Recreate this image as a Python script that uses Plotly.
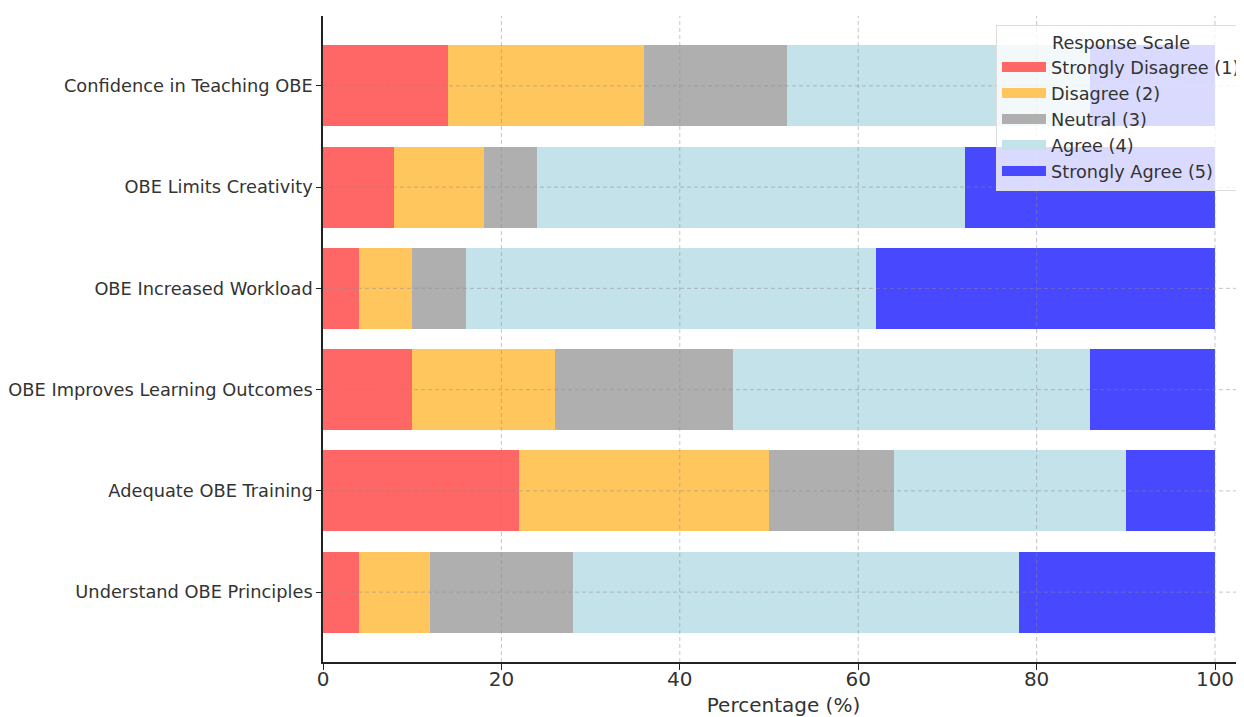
import plotly.graph_objects as go

categories = ["Understand OBE Principles", "Adequate OBE Training",
              "OBE Improves Learning Outcomes", "OBE Increased Workload",
              "OBE Limits Creativity", "Confidence in Teaching OBE"]
strongly_disagree = [4, 22, 10, 4, 8, 14]
disagree = [8, 28, 16, 6, 10, 22]
neutral = [16, 14, 20, 6, 6, 16]
agree = [50, 26, 40, 46, 48, 34]
strongly_agree = [22, 10, 14, 38, 28, 14]
series_names = ["Strongly Disagree (1)", "Disagree (2)", "Neutral (3)",
                "Agree (4)", "Strongly Agree (5)"]
colors = ["#FF6666", "#FFC65E", "#AFAFAF", "#C3E2EA", "#4848FF"]
x_ticks = [0, 20, 40, 60, 80, 100]

series = [strongly_disagree, disagree, neutral, agree, strongly_agree]
ypos = list(range(len(categories)))

fig = go.Figure()
for name, vals, col in zip(series_names, series, colors):
    fig.add_trace(go.Bar(y=ypos, x=vals, orientation="h", name=name,
                         marker=dict(color=col, line=dict(width=0)),
                         width=0.8, showlegend=False, legendgroup=name))
# legend entries drawn as wide patches (like matplotlib)
for name, col in zip(series_names, colors):
    fig.add_trace(go.Scatter(x=[None], y=[None], mode="lines", name=name,
                             line=dict(color=col, width=13), legendgroup=name,
                             showlegend=True, hoverinfo="skip"))

grid_line = dict(color="rgba(140,140,140,0.5)", width=1, dash="4px,3px")
shapes = []
for xv in x_ticks[1:]:
    shapes.append(dict(type="line", xref="x", yref="paper", x0=xv, x1=xv,
                       y0=0, y1=1, layer="above", line=grid_line))
for yv in ypos:
    shapes.append(dict(type="line", xref="paper", yref="y", x0=0, x1=1,
                       y0=yv, y1=yv, layer="above", line=grid_line))

fig.update_layout(
    width=1236, height=709,
    barmode="stack",
    plot_bgcolor="white", paper_bgcolor="white",
    margin=dict(l=315, r=0, t=8, b=55, autoexpand=False),
    font=dict(family="DejaVu Sans", color="#333333"),
    shapes=shapes,
    xaxis=dict(range=[0, 103.25], tickvals=x_ticks, ticks="outside", ticklen=6,
               tickcolor="#222", showgrid=False, zeroline=False, automargin=False,
               showline=True, linecolor="#222", linewidth=1.5,
               ticklabelstandoff=-8,
               tickfont=dict(size=20, color="#333"),
               title=dict(text="Percentage (%)", font=dict(size=20, color="#333"),
                          standoff=8)),
    yaxis=dict(range=[-0.69, 5.69], tickvals=ypos, ticktext=categories,
               ticks="outside", ticklen=5, tickcolor="#222", automargin=False,
               showgrid=False, zeroline=False, showline=True, linecolor="#222",
               linewidth=1.5, tickfont=dict(size=17.8, color="#333")),
    legend=dict(x=0.7307, y=0.986, xanchor="left", yanchor="top",
                bgcolor="rgba(255,255,255,0.8)", bordercolor="#dddddd",
                borderwidth=1, font=dict(size=17.7, color="#333"),
                title=dict(text="Response Scale", side="top center",
                           font=dict(size=17.7, color="#333")),
                traceorder="normal", tracegroupgap=0, itemwidth=44),
    showlegend=True,
)

fig.write_html("out.html")
